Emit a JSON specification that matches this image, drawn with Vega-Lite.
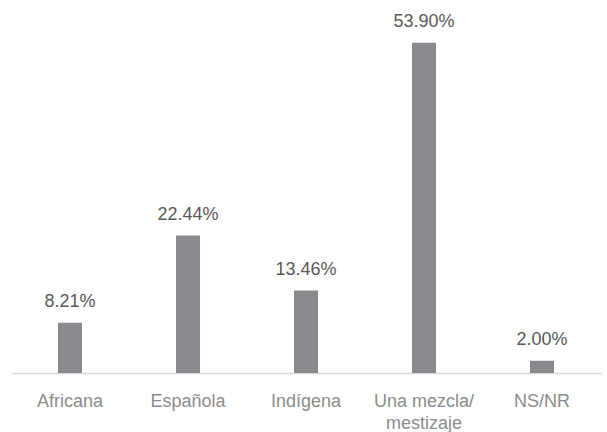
{
  "$schema": "https://vega.github.io/schema/vega-lite/v6.json",
  "width": 590,
  "height": 373,
  "padding": {"left": 11, "top": 0, "right": 6, "bottom": 0},
  "autosize": {"type": "pad"},
  "background": "white",
  "config": {"view": {"stroke": null}, "font": "Liberation Sans"},
  "data": {"values": [
    {"cat": "Africana", "pct": 0.0821},
    {"cat": "Española", "pct": 0.2244},
    {"cat": "Indígena", "pct": 0.1346},
    {"cat": "Una mezcla/mestizaje", "pct": 0.5390},
    {"cat": "NS/NR", "pct": 0.0200}
  ]},
  "encoding": {
    "x": {"field": "cat", "type": "nominal", "sort": null,
      "scale": {"paddingInner": 0.797, "paddingOuter": 0.3985},
      "axis": {"title": null, "labelAngle": 0, "ticks": false, "domainColor": "#d9d9d9", "domainWidth": 1.5,
        "labelColor": "#8c8c8c", "labelFontSize": 18, "labelPadding": 19, "labelFont": "Liberation Sans",
        "labelExpr": "datum.label == 'Una mezcla/mestizaje' ? ['Una mezcla/', 'mestizaje'] : datum.label",
        "labelLineHeight": 22}},
    "y": {"field": "pct", "type": "quantitative", "scale": {"domain": [0, 0.609], "nice": false}, "axis": null}
  },
  "layer": [
    {"mark": {"type": "bar", "color": "#8a8a8e"}},
    {"mark": {"type": "text", "baseline": "bottom", "dy": -12, "fontSize": 18, "color": "#595959", "font": "Liberation Sans"},
     "encoding": {"text": {"field": "pct", "type": "quantitative", "format": ".2%"}}}
  ]
}
